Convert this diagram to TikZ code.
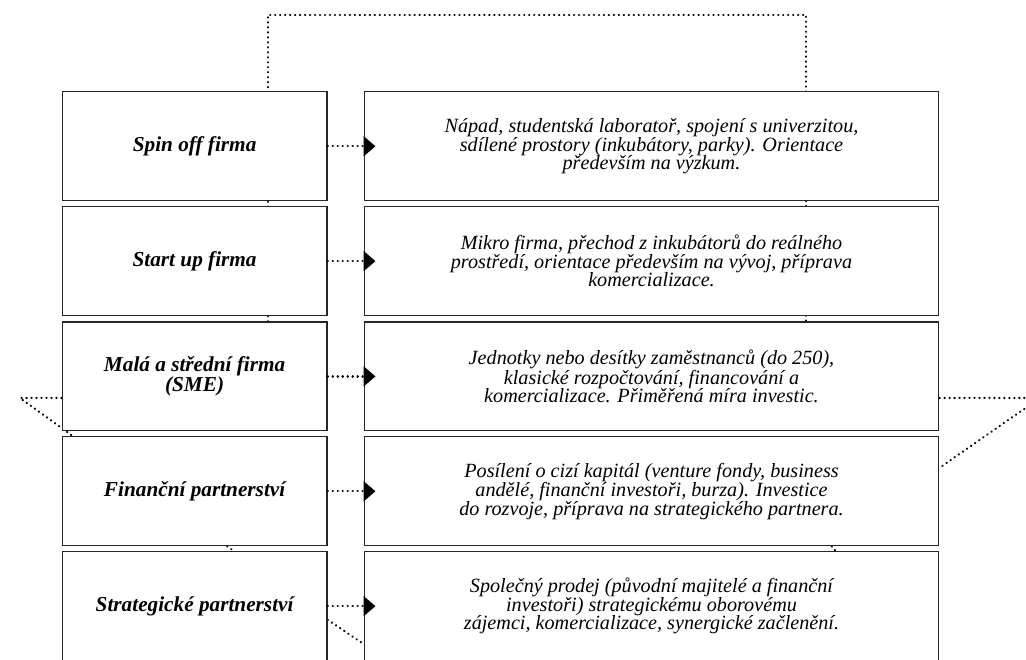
\documentclass[tikz,border=0pt]{standalone}
\usepackage{fontspec}
\setmainfont{Liberation Serif}
\usetikzlibrary{arrows.meta,positioning,backgrounds}

\begin{document}
\begin{tikzpicture}[
  stage/.style={draw=black!85, line width=0.9pt, fill=white, minimum width=7.01cm, minimum height=2.88cm, align=center, font=\fontsize{16}{15.5}\selectfont\bfseries\itshape},
  desc/.style={draw=black!85, line width=0.9pt, fill=white, minimum width=15.21cm, minimum height=2.88cm, align=center, font=\fontsize{15.2}{13.9}\selectfont\itshape},
  dots/.style={line width=1.7pt, line cap=round, dash pattern=on 0.2pt off 3.55pt},
  link/.style={dots, -{Triangle[length=9pt, width=15pt]}, shorten >=-9pt}
]
  % Frame of the page (lines leaving it are cut)
  \useasboundingbox (0,0) rectangle (27.15,17.46);
  \clip (0,0) rectangle (27.15,17.46);

  % Stages (left column) and their descriptions (right column)
  \node[stage] (spin) at (5.15, 13.59) {Spin off firma};
  \node[desc] (spind) at (17.24, 13.59) {Nápad, studentská laboratoř, spojení s univerzitou,\\sdílené prostory (inkubátory, parky). Orientace\\především na výzkum.};

  \node[stage] (start) at (5.15, 10.55) {Start up firma};
  \node[desc] (startd) at (17.24, 10.55) {Mikro firma, přechod z inkubátorů do reálného\\prostředí, orientace především na vývoj, příprava\\komercializace.};

  \node[stage] (sme) at (5.15, 7.50) {Malá a střední firma\\(SME)};
  \node[desc] (smed) at (17.24, 7.50) {Jednotky nebo desítky zaměstnanců (do 250),\\klasické rozpočtování, financování a\\komercializace. Přiměřená míra investic.};

  \node[stage] (fin) at (5.15, 4.46) {Finanční partnerství};
  \node[desc] (find) at (17.24, 4.46) {Posílení o cizí kapitál (venture fondy, business\\andělé, finanční investoři, burza). Investice\\do rozvoje, příprava na strategického partnera.};

  \node[stage] (strat) at (5.15, 1.42) {Strategické partnerství};
  \node[desc] (stratd) at (17.24, 1.42) {Společný prodej (původní majitelé a finanční\\investoři) strategickému oborovému\\zájemci, komercializace, synergické začlenění.};

  % Stage -> description
  \draw[link] (spin) -- (spind);
  \draw[link] (start) -- (startd);
  \draw[link] (sme) -- (smed);
  \draw[link] (fin) -- (find);
  \draw[link] (strat) -- (stratd);

  % Dotted connectors running behind the boxes
  \begin{scope}[on background layer]
    \draw[dots] (7.09,0 |- sme.north) -- (7.09,17.07) -- (21.33,17.07) -- (21.33,0 |- smed.north);
    \draw[dots] (sme.west |- 0,6.93) -- (0.53,6.93) -- (1.93,0 |- fin.north);
    \draw[dots] (smed.east |- 0,6.93) -- (27.52,6.93) -- (find.east |- 0,5.08);
    \draw[dots] (6.01,0 |- fin.south) -- (6.19,0 |- strat.north);
    \draw[dots] (22.01,0 |- find.south) -- (22.12,0 |- stratd.north);
    \draw[dots] (strat.east |- 0,1.06) -- (stratd.west |- 0,0.42);
  \end{scope}

\end{tikzpicture}
\end{document}
